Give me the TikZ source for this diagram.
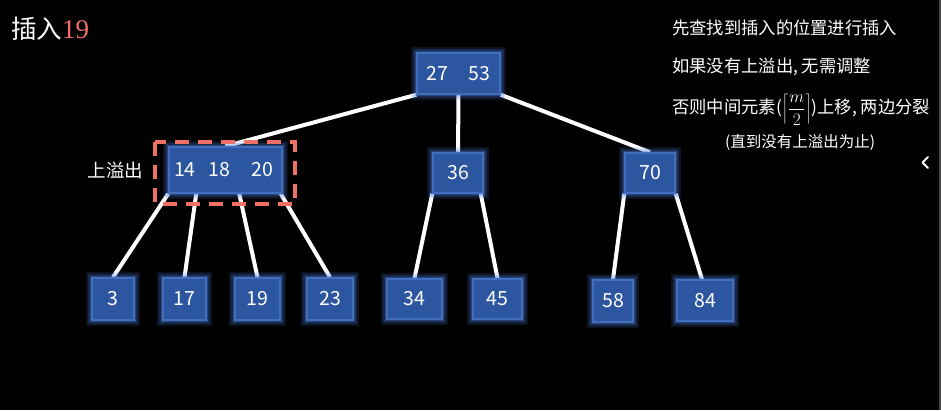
\documentclass[tikz,border=0pt]{standalone}
\usepackage{fontspec}
\setmainfont{Noto Sans CJK SC}
\newfontfamily\cjk{Noto Sans CJK SC}
\newfontfamily\serifnum{Liberation Serif}
\usetikzlibrary{calc}
\definecolor{boxfill}{RGB}{44,86,160}
\definecolor{boxglow}{RGB}{75,125,220}
\definecolor{boxrim}{RGB}{66,110,190}
\definecolor{warn}{RGB}{240,112,100}
\pgfdeclarelayer{canvas}
\pgfdeclarelayer{links}
\pgfsetlayers{canvas,links,main}
\tikzset{
  keybox/.style={draw=boxrim, line width=1.5pt, fill=boxfill, text=white,
    inner sep=0pt, font=\cjk\fontsize{19.5}{21}\selectfont,
    preaction={draw=boxglow, line width=12pt, opacity=0.15},
    preaction={draw=boxglow, line width=8pt, opacity=0.22},
    preaction={draw=boxglow, line width=4.5pt, opacity=0.35}},
  link/.style={draw=white, line width=4pt},
  note/.style={text=white, anchor=west, inner sep=0pt,
    font=\cjk\fontsize{17.3}{19}\selectfont}
}
\begin{document}
\begin{tikzpicture}[x=1pt, y=-1pt]
  \begin{pgfonlayer}{canvas}
    \fill[black] (0,0) rectangle (941,410);
    \fill[black!72] (939,0) rectangle (941,410);
  \end{pgfonlayer}
  \useasboundingbox (0,0) rectangle (941,410);

  % title
  \node[anchor=west, inner sep=0pt, text=white, font=\cjk\fontsize{25.5}{27}\selectfont]
    (title) at (11,29) {插入{\serifnum\fontsize{27}{29}\selectfont\color{warn}19}};

  % explanation
  \node[note] (s1) at (672,28) {先查找到插入的位置进行插入};
  \node[note] (s2) at (672,67) {如果没有上溢出, 无需调整};
  \node[note] (s3) at (672,110) {否则中间元素($\left\lceil\displaystyle\frac{m}{2}\right\rceil$)上移, 两边分裂};
  \node[text=white, inner sep=0pt, font=\cjk\fontsize{15.5}{17}\selectfont]
    (s4) at (800,142) {(直到没有上溢出为止)};

  % side chevron
  \coordinate (cv1) at (928,157);
  \coordinate (cv2) at (922.5,162.5);
  \coordinate (cv3) at (928,168);
  \draw[white, line width=2pt, line cap=round, line join=round] (cv1) -- (cv2) -- (cv3);

  % tree nodes
  \node[keybox, minimum width=83pt, minimum height=41pt] (r) at (458.5,73.5) {27\hspace{20pt}53};
  \node[keybox, minimum width=113pt, minimum height=46pt] (L) at (225.5,170) {\hspace{-4pt}14\hspace{13pt}18\hspace{21pt}20};
  \node[keybox, minimum width=50pt, minimum height=40pt] (m) at (458,173) {36};
  \node[keybox, minimum width=50pt, minimum height=40pt] (R) at (650,173) {70};

  \node[keybox, minimum width=42pt, minimum height=42pt] (k3) at (113,299) {3};
  \node[keybox, minimum width=43pt, minimum height=42pt] (k17) at (184.5,299) {17};
  \node[keybox, minimum width=45pt, minimum height=42pt] (k19) at (257.5,299) {19};
  \node[keybox, minimum width=46pt, minimum height=42pt] (k23) at (330,299) {23};
  \node[keybox, minimum width=55pt, minimum height=40pt] (k34) at (414.5,299) {34};
  \node[keybox, minimum width=49pt, minimum height=40pt] (k45) at (497.5,299) {45};
  \node[keybox, minimum width=40pt, minimum height=42pt] (k58) at (613,301) {58};
  \node[keybox, minimum width=56pt, minimum height=41pt] (k84) at (705,300.5) {84};

  % overflow marker
  \draw[warn, line width=4pt, dash pattern=on 14pt off 9pt]
    ($(L.north west)+(-13,-4)$) rectangle ($(L.south east)+(12,10)$);
  \node[text=white, anchor=east, inner sep=0pt, font=\cjk\fontsize{18.5}{20}\selectfont]
    (ovf) at ($(L.west)+(-25,0)$) {上溢出};

  % links, kept behind the boxes
  \begin{pgfonlayer}{links}
    \draw[link] (r.south west) -- (L.north);
    \draw[link] (r.south) -- (m.north);
    \draw[link] (r.south east) -- (R.north);
    \draw[link] (L.south west) -- (k3.north);
    \draw[link] ($(L.south west)+(28,0)$) -- (k17.north);
    \draw[link] ($(L.south west)+(71,0)$) -- (k19.north);
    \draw[link] ($(L.south east)+(-2,0)$) -- (k23.north);
    \draw[link] (m.south west) -- (k34.north);
    \draw[link] ($(m.south east)+(-3,0)$) -- (k45.north);
    \draw[link] (R.south west) -- (k58.north);
    \draw[link] (R.south east) -- ($(k84.north)+(-3,0)$);
  \end{pgfonlayer}
\end{tikzpicture}
\end{document}
